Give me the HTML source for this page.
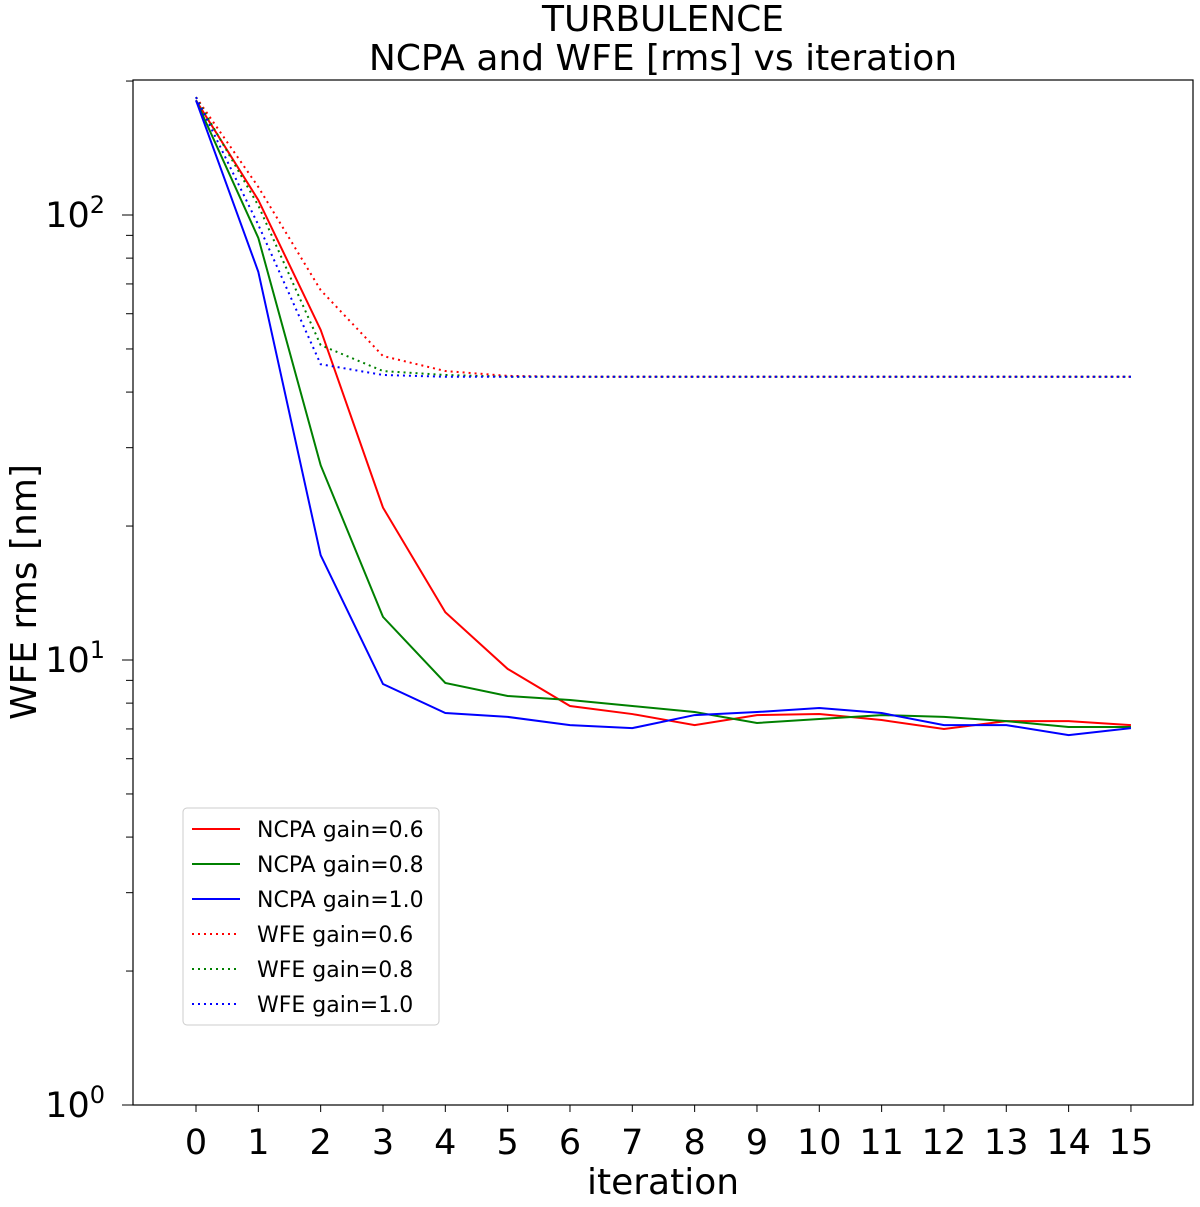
<!DOCTYPE html>
<html><head><meta charset="utf-8"><style>
body{margin:0;background:#fff}
svg text{font-family:"DejaVu Sans","Liberation Sans",sans-serif}
</style></head><body>
<svg id="chart" width="1200" height="1202">
<text x="663" y="31" font-size="36" text-anchor="middle">TURBULENCE</text>
<text x="663" y="70" font-size="36" text-anchor="middle">NCPA and WFE [rms] vs iteration</text>
<rect x="133" y="80" width="1060" height="1025" fill="none" stroke="#000" stroke-width="1.2"/>
<g id="axes"></g>
<g id="series"></g>
<text x="663" y="1194" font-size="36" text-anchor="middle">iteration</text>
<text transform="translate(36,592) rotate(-90)" font-size="36" text-anchor="middle">WFE rms [nm]</text>
<g>
<rect x="183" y="808" width="256" height="217" rx="4" fill="#fff" stroke="#ccc"/>
<g id="legend"></g>
</g>
</svg>
<script>
const iterations=[0,1,2,3,4,5,6,7,8,9,10,11,12,13,14,15];
const ncpa06=[181,108,55.2,22.0,12.8,9.55,7.88,7.56,7.14,7.52,7.56,7.33,7.0,7.29,7.29,7.14];
const ncpa08=[181,88.8,27.4,12.5,8.88,8.30,8.13,7.88,7.64,7.22,7.37,7.52,7.45,7.29,7.07,7.07];
const ncpa10=[181,74.5,17.2,8.83,7.60,7.45,7.14,7.03,7.52,7.64,7.80,7.60,7.14,7.14,6.78,7.03];
const wfe06=[184,115.6,67.8,48.2,44.6,43.5,43.3,43.3,43.3,43.3,43.3,43.3,43.3,43.3,43.3,43.3];
const wfe08=[184,105,51.0,44.6,43.7,43.3,43.3,43.3,43.3,43.3,43.3,43.3,43.3,43.3,43.3,43.3];
const wfe10=[184,95,46.2,43.7,43.3,43.3,43.3,43.3,43.3,43.3,43.3,43.3,43.3,43.3,43.3,43.3];
const seriesLabels=["NCPA gain=0.6","NCPA gain=0.8","NCPA gain=1.0","WFE gain=0.6","WFE gain=0.8","WFE gain=1.0"];
const NS="http://www.w3.org/2000/svg";
const X=i=>196+i*62.33;
const Y=v=>1105-445*Math.log10(v);
function mk(t,a,p){const e=document.createElementNS(NS,t);for(const k in a)e.setAttribute(k,a[k]);p.appendChild(e);return e;}
const axes=document.getElementById('axes');
iterations.forEach(i=>{
  const t=mk('line',{x1:X(i),x2:X(i),y1:1105,y2:1112,stroke:'#000'},axes);
  
  
  const l=mk('text',{x:X(i),y:1154,'font-size':35,'text-anchor':'middle'},axes);
  l.textContent=i;
  
  
});
[0,1,2].forEach(d=>{
  for(let m=1;m<10;m++){
    const v=Math.pow(10,d)*m; const y=Y(v); if(y<80)continue;
    const t=mk('line',{x1:m===1?122:126,x2:133,y1:y,y2:y,stroke:'#000'},axes);
    
    
  }
  const l=mk('text',{x:105,y:Y(Math.pow(10,d))+12,'font-size':35,'text-anchor':'end'},axes);
  l.textContent='10';
  const s=mk('tspan',{dy:-14,'font-size':24},l); s.textContent=d;
  
  
});
const all=[ncpa06,ncpa08,ncpa10,wfe06,wfe08,wfe10];
const cols=['#ff0000','#008000','#0000ff','#ff0000','#008000','#0000ff'];
const names=['ncpa-gain-0.6-line','ncpa-gain-0.8-line','ncpa-gain-1.0-line','wfe-gain-0.6-line','wfe-gain-0.8-line','wfe-gain-1.0-line'];
const sg=document.getElementById('series'), lg=document.getElementById('legend');
all.forEach((arr,k)=>{
  const p=mk('polyline',{points:arr.map((v,i)=>X(iterations[i])+','+Y(v)).join(' '),fill:'none',stroke:cols[k],'stroke-width':2,'stroke-dasharray':k>2?'2,4':'none'},sg);
  
  
  const ly=829+k*35;
  const ll=mk('line',{x1:192,x2:240,y1:ly,y2:ly,stroke:cols[k],'stroke-width':2,'stroke-dasharray':k>2?'2,4':'none'},lg);
  
  
  const lt=mk('text',{x:257,y:ly+8,'font-size':22},lg);
  lt.textContent=seriesLabels[k];
  
  
});
</script>
</body></html>
